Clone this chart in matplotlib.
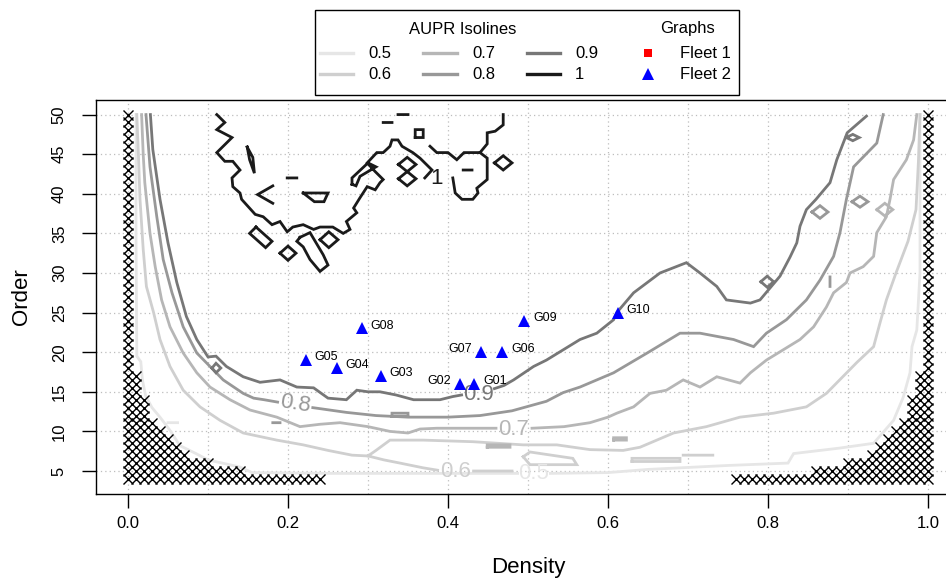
import numpy as np
import matplotlib
matplotlib.use("Agg")
import matplotlib.pyplot as plt
from matplotlib.patches import Rectangle
from matplotlib.lines import Line2D

plt.rcParams['font.family'] = ['Liberation Sans', 'DejaVu Sans']
nan = np.nan

# ---------------- data ----------------
levels = ['0.5', '0.6', '0.7', '0.8', '0.9', '1']
level_colors = ['#E6E6E6', '#CFCFCF', '#B6B6B6', '#989898', '#777777', '#1A1A1A']

# isolines (density, order); NaN separates pieces
iso05_x = [0.010, 0.010, 0.011, 0.016, 0.018, 0.022, 0.030, 0.040, 0.052, 0.065, 0.085, 0.100, 0.140, 0.155, 0.25, 0.35, 0.42, 0.487, nan,
           0.528, 0.60, 0.65, 0.75, 0.825, 0.832, 0.89, 0.932, 0.957, 0.969, 0.9775, 0.98, 0.986, 0.990, 0.990, nan,
           0.050, 0.062]
iso05_y = [50, 35, 19.5, 18.8, 16.5, 14.5, 13.0, 11.8, 10.2, 8.2, 7.2, 6.4, 5.5, 4.8, 4.7, 4.7, 4.7, 4.7, nan,
           4.7, 4.8, 5.2, 5.7, 6.0, 7.2, 7.9, 8.5, 11.4, 14.3, 17.4, 20.7, 22.8, 30, 50, nan,
           11.1, 11.1]

iso06_x = [0.011, 0.013, 0.015, 0.019, 0.023, 0.032, 0.040, 0.0525, 0.069, 0.090, 0.115, 0.144, 0.186, 0.219, 0.25, 0.28, 0.30,
           0.31, 0.3275, 0.369, 0.431, 0.494, 0.536, 0.5775, 0.619, 0.64, 0.682, 0.723, 0.765, 0.807, 0.848, 0.873, 0.911,
           0.932, 0.94, 0.948, 0.96, 0.975, 0.985, 0.988, 0.990, nan,
           0.30, 0.32, 0.34, 0.369, 0.387, nan, 0.432, 0.455, 0.48, nan,
           0.494, 0.5025, 0.556, 0.561, 0.5025, 0.494, nan,
           0.63, 0.69, 0.69, 0.63, 0.63, nan,
           0.694, 0.731]
iso06_y = [50, 45, 39.3, 33, 28.3, 25, 21.6, 18.2, 15.2, 13.1, 11.4, 9.8, 8.9, 8.3, 7.6, 7.0, 6.9,
           7.6, 8.9, 8.9, 8.7, 8.3, 8.3, 7.7, 7.6, 8.0, 9.8, 10.6, 11.8, 12.3, 13.1, 14.8, 18.7,
           20.7, 23.7, 26.6, 30, 34, 38, 44, 50, nan,
           6.9, 6.4, 6.0, 5.4, 5.1, nan, 5.0, 5.0, 5.0, nan,
           6.8, 7.4, 6.6, 5.8, 5.8, 6.8, nan,
           6.2, 6.2, 6.6, 6.6, 6.2, nan,
           7.0, 7.0]

iso07_x = [0.017, 0.019, 0.021, 0.0275, 0.034, 0.042, 0.0525, 0.069, 0.086, 0.1025, 0.1275, 0.1525, 0.186, 0.215, 0.24,
           0.265, 0.30, 0.3275, 0.35, 0.365, 0.386, 0.42, 0.46, nan,
           0.505, 0.545, 0.5775, 0.60, 0.611, 0.632, 0.6525, 0.673, 0.694, 0.715, 0.736, 0.765, 0.778, 0.798, 0.819,
           0.84, 0.857, 0.873, 0.882, 0.898, 0.9025, 0.919, 0.932, 0.936, 0.948, 0.9525, 0.957, 0.973, 0.982, 0.986, nan,
           0.449, 0.4775, 0.4775, 0.449, 0.449, nan,
           0.607, 0.623, 0.623, 0.607, 0.607, nan,
           0.936, 0.946, 0.956, 0.946, 0.936]
iso07_y = [50, 45, 41.4, 35, 30.8, 26.6, 23.2, 19.9, 17.4, 15.6, 14, 12.7, 11.8, 10.6, 10.9,
           11.1, 10.6, 10.0, 9.8, 10.3, 10.4, 10.4, 10.4, nan,
           10.4, 10.6, 11.1, 11.8, 12.3, 13.1, 14.8, 15.2, 16.5, 15.6, 16.9, 16.1, 17.4, 19, 20.3,
           21.6, 23.2, 25.7, 27.5, 28.8, 30, 30.8, 32.1, 35.1, 37.1, 39.3, 41.8, 44.3, 46.8, 50, nan,
           8.0, 8.0, 8.3, 8.3, 8.0, nan,
           8.9, 8.9, 9.2, 9.2, 8.9, nan,
           38, 38.8, 38, 37.2, 38]

iso08_x = [0.0225, 0.0275, 0.036, 0.044, 0.055, 0.069, 0.086, 0.1025, 0.119, 0.144, 0.157, 0.17, 0.187, nan,
           0.231, 0.273, 0.31, 0.35, 0.40, 0.44, 0.48, 0.523, 0.544, 0.565, 0.607, 0.649, 0.69, 0.715, 0.757, 0.782,
           0.798, 0.823, 0.848, 0.865, 0.882, 0.89, 0.898, 0.907, 0.936, 0.944, nan,
           0.33, 0.35, 0.35, 0.33, 0.33, nan,
           0.181, 0.19, nan,
           0.855, 0.865, 0.875, 0.865, 0.855, nan,
           0.905, 0.915, 0.925, 0.915, 0.905, nan,
           0.8775, 0.8775]
iso08_y = [50, 43.4, 37.1, 31.7, 27.5, 23.2, 19.9, 18.2, 16.5, 14.8, 14.2, 14.0, 13.7, nan,
           13.0, 12.4, 12.0, 11.8, 11.8, 12.0, 12.6, 13.8, 14.9, 15.6, 17.4, 19.9, 22.4, 22.4, 21.6, 20.7,
           22.4, 24.1, 26.6, 29.1, 32.1, 35.1, 39.3, 43.4, 46.4, 50, nan,
           11.9, 11.9, 12.3, 12.3, 11.9, nan,
           11.1, 11.1, nan,
           37.7, 38.5, 37.7, 36.9, 37.7, nan,
           39.0, 39.7, 39.0, 38.3, 39.0, nan,
           28.3, 29.5]

iso09_x = [0.028, 0.031, 0.040, 0.050, 0.061, 0.073, 0.086, 0.100, 0.110, 0.123, 0.144, 0.165, 0.19, 0.211, 0.232, 0.25,
           0.273, 0.286, 0.30, 0.315, 0.335, 0.357, 0.39, 0.406, 0.417, nan,
           0.458, 0.47, 0.482, 0.507, 0.523, 0.544, 0.565, 0.586, 0.607, 0.611, 0.632, 0.665, 0.698, 0.715, 0.736, 0.748,
           0.778, 0.79, 0.815, 0.8275, 0.836, 0.84, 0.848, 0.86, 0.8775, 0.886, 0.899, 0.923, nan,
           0.105, 0.11, 0.116, 0.11, 0.105, nan,
           0.898, 0.906, 0.914, 0.906, 0.898, nan,
           0.791, 0.799, 0.807, 0.799, 0.791]
iso09_y = [50, 45.6, 39.3, 33.8, 28.8, 24.5, 21.6, 19.4, 19.5, 18.2, 16.9, 16.2, 16.5, 15.6, 15.5, 14.2,
           14.0, 15.2, 15.0, 15.0, 14.6, 14.0, 14.0, 14.4, 14.6, nan,
           15.4, 15.8, 16.5, 18.2, 19, 20.3, 21.6, 22.4, 24.1, 25, 27.5, 30, 31.3, 30, 28.3, 26.6,
           26.2, 26.6, 29.6, 32, 33.8, 35.9, 38, 39.3, 41.4, 44.3, 47.7, 49.8, nan,
           18.0, 18.6, 18.0, 17.4, 18.0, nan,
           47.1, 47.5, 47.1, 46.7, 47.1, nan,
           28.9, 29.6, 28.9, 28.2, 28.9]

iso10_x = [0.111, 0.121, 0.111, 0.13, 0.111, 0.121, 0.131, 0.14, 0.13, 0.131, 0.14, 0.142, 0.159, 0.169, 0.18, 0.19,
           0.199, 0.206, 0.219, 0.232, 0.24, 0.256, 0.269, 0.2775, 0.273, 0.286, 0.282, 0.29, 0.299, 0.309, 0.315,
           0.319, 0.309, 0.299, 0.311, 0.319, 0.3275, 0.33, 0.3375, 0.3425, 0.356, 0.365, 0.38, 0.371, nan,
           0.406, 0.409, 0.4175, 0.431, 0.4375, 0.436, 0.449, 0.449, 0.44, 0.449, 0.449, 0.459, 0.469, 0.469, nan,
           0.3775, 0.386, 0.40, 0.411, 0.42, 0.44, nan,
           0.149, 0.156, 0.158, 0.152, 0.149, nan,
           0.199, 0.211, nan,
           0.181, 0.162, 0.181, nan,
           0.219, 0.25, 0.245, 0.233, 0.219, nan,
           0.16, 0.18, 0.172, 0.152, 0.16, nan,
           0.19, 0.20, 0.21, 0.20, 0.19, nan,
           0.215, 0.2275, 0.244, 0.25, 0.24, 0.2275, 0.219, 0.211, 0.215, nan,
           0.24, 0.251, 0.2625, 0.251, 0.24, nan,
           0.28, 0.28, 0.30, 0.31, 0.29, 0.285, 0.28, nan,
           0.338, 0.349, 0.360, 0.349, 0.338, nan,
           0.338, 0.349, 0.360, 0.349, 0.338, nan,
           0.359, 0.369, 0.369, 0.359, 0.359, nan,
           0.319, 0.33, nan,
           0.3375, 0.35, nan,
           0.419, 0.43, nan,
           0.458, 0.469, 0.48, 0.469, 0.458]
iso10_y = [50, 49, 48.1, 47.1, 45.2, 44.1, 44.1, 43, 42, 40.9, 40.1, 39.3, 37.4, 37.1, 36.1, 36.5,
           35.2, 35.8, 36.1, 35.5, 35.8, 35.8, 35, 35.5, 36.5, 37.6, 38.2, 39.5, 40.9, 40.5, 41.4,
           41.8, 42.8, 43.9, 45.2, 45.2, 46, 46.8, 46.8, 46, 45.2, 44.5, 43, 42, nan,
           42, 40.1, 39.3, 39.3, 40.1, 40.7, 41.8, 44.5, 45.2, 46.3, 47.7, 47.9, 48.7, 50, nan,
           46, 45.2, 45.2, 44.3, 45.2, 45.2, nan,
           45.9, 44.6, 42.6, 44.3, 45.9, nan,
           42.0, 42.0, nan,
           41.0, 39.9, 38.8, nan,
           40.1, 40.1, 39.0, 39.0, 40.1, nan,
           35.8, 34.0, 33.2, 35.0, 35.8, nan,
           32.5, 33.4, 32.5, 31.6, 32.5, nan,
           34.5, 35.1, 32.3, 31.0, 30.2, 31.7, 33.3, 34.0, 34.5, nan,
           34.2, 35.2, 34.2, 33.2, 34.2, nan,
           41.2, 42.0, 43.9, 43.4, 42.2, 41.0, 41.2, nan,
           43.7, 44.6, 43.7, 42.8, 43.7, nan,
           41.9, 42.8, 41.9, 41.0, 41.9, nan,
           47.1, 47.1, 48.1, 48.1, 47.1, nan,
           49.0, 49.0, nan,
           50.0, 50.0, nan,
           43.0, 43.0, nan,
           43.9, 44.8, 43.9, 43.0, 43.9]

iso_x = [iso05_x, iso06_x, iso07_x, iso08_x, iso09_x, iso10_x]
iso_y = [iso05_y, iso06_y, iso07_y, iso08_y, iso09_y, iso10_y]

# contour labels
label_x = [0.5075, 0.409, 0.4825, 0.209, 0.4375, 0.386]
label_y = [4.7, 5.0, 10.2, 13.5, 14.6, 41.9]
label_rot = [0, 0, 0, -9, 0, 0]

# infeasible cells (hatched): orders and the largest density on the low side
hatch_orders = list(range(4, 51))
hatch_low_max = [0.24, 0.14, 0.10, 0.07, 0.06, 0.05, 0.04, 0.03, 0.02, 0.02, 0.02, 0.01, 0.01, 0.01] + [0.0] * 33

# graphs (Fleet 2)
graph_names = ['G01', 'G02', 'G03', 'G04', 'G05', 'G06', 'G07', 'G08', 'G09', 'G10']
graph_density = [0.4325, 0.415, 0.316, 0.261, 0.222, 0.468, 0.441, 0.292, 0.495, 0.612]
graph_order = [16, 16, 17, 18, 19, 20, 20, 23, 24, 25]
graph_label_side = ['right', 'left', 'right', 'right', 'right', 'right', 'left', 'right', 'right', 'right']

x_ticks = [0.0, 0.2, 0.4, 0.6, 0.8, 1.0]
x_ticklabels = ['0.0', '0.2', '0.4', '0.6', '0.8', '1.0']
y_ticks = [5, 10, 15, 20, 25, 30, 35, 40, 45, 50]
x_grid = [0.0, 0.1, 0.2, 0.3, 0.4, 0.5, 0.6, 0.7, 0.8, 0.9, 1.0]

# ---------------- figure ----------------
W, H = 946, 581
fig = plt.figure(figsize=(W / 100, H / 100), dpi=100)
ax_l, ax_r, ax_t, ax_b = 96, 960, 100, 493.5
ax = fig.add_axes([ax_l / W, 1 - ax_b / H, (ax_r - ax_l) / W, (ax_b - ax_t) / H])
ax.set_xlim(-0.04, 1.04)
ax.set_ylim(2.16, 51.84)

# grid
for gx in x_grid:
    ax.axvline(gx, color='#BDBDBD', lw=0.9, ls=(0, (1, 2.5)), zorder=1)
for gy in y_ticks:
    ax.axhline(gy, color='#BDBDBD', lw=0.9, ls=(0, (1, 2.5)), zorder=1)

# isolines
for xs, ys, col in zip(iso_x, iso_y, level_colors):
    ax.plot(xs, ys, color=col, lw=2.0, solid_joinstyle='miter', zorder=2)

# contour labels
for txt, lx, ly, rot, col in zip(levels, label_x, label_y, label_rot, level_colors):
    ax.text(lx, ly, txt, color=col, fontsize=16, ha='center', va='center',
            rotation=rot, rotation_mode='anchor', zorder=2)

# hatched (infeasible) cells
hx, hy = [], []
for o, m in zip(hatch_orders, hatch_low_max):
    n = int(round(m / 0.01))
    for k in range(n + 1):
        hx += [k * 0.01, 1 - k * 0.01]
        hy += [o, o]
ax.plot(hx, hy, ls='none', marker='x', ms=6.6, mew=1.0, color='black', zorder=3)

# graphs
ax.plot(graph_density, graph_order, ls='none', marker='^', ms=9, mew=0, color='#0000FF', zorder=4)
for name, gx, gy, side in zip(graph_names, graph_density, graph_order, graph_label_side):
    off = 6.5 if side == 'right' else -6.5
    ax.annotate(name, (gx, gy), xytext=(off, 2.0), textcoords='offset points',
                ha='left' if side == 'right' else 'right', va='center', fontsize=9, zorder=5)

# axes styling
for sp in ax.spines.values():
    sp.set_linewidth(1.0)
ax.set_xticks(x_ticks)
ax.set_xticklabels(x_ticklabels, fontsize=12)
ax.set_yticks(y_ticks)
ax.set_yticklabels([str(v) for v in y_ticks], fontsize=12, rotation=90, va='center')
ax.tick_params(axis='both', direction='out', length=10, width=1.0)
ax.tick_params(axis='x', pad=6)
ax.tick_params(axis='y', pad=11)
ax.set_xlabel('Density', fontsize=16, va='center')
ax.xaxis.set_label_coords(0.5, -(568 - ax_b) / (ax_b - ax_t))
ax.set_ylabel('Order', fontsize=16, va='center')
ax.yaxis.set_label_coords(-(ax_l - 22) / (ax_r - ax_l), 0.5)

# ---------------- legend ----------------
bx0, by0, bx1, by1 = 315, 10, 739, 95


def fx(px):
    return px / W


def fy(py):
    return 1 - py / H


fig.add_artist(Rectangle((fx(bx0), fy(by1)), fx(bx1) - fx(bx0), fy(by0) - fy(by1),
                         transform=fig.transFigure, fill=False, ec='black', lw=1.0))
fig.text(fx(463), fy(29), 'AUPR Isolines', fontsize=12, ha='center', va='center')
fig.text(fx(687), fy(29), 'Graphs', fontsize=12, ha='center', va='center')
rows = [53, 74]
cols_line = [(320, 353), (423, 457), (527, 560)]
cols_text = [368, 472, 575]
for i, (lvl, col) in enumerate(zip(levels, level_colors)):
    c, r = divmod(i, 2)
    x0, x1 = cols_line[c]
    fig.add_artist(Line2D([fx(x0), fx(x1)], [fy(rows[r]), fy(rows[r])], transform=fig.transFigure,
                          color=col, lw=2.4))
    fig.text(fx(cols_text[c]), fy(rows[r]), lvl, fontsize=12, ha='left', va='center')
fig.add_artist(Line2D([fx(648)], [fy(rows[0])], transform=fig.transFigure, ls='none',
                      marker='s', ms=5.5, mew=0, color='#FF0000'))
fig.add_artist(Line2D([fx(648)], [fy(rows[1])], transform=fig.transFigure, ls='none',
                      marker='^', ms=8, mew=0, color='#0000FF'))
fig.text(fx(680), fy(rows[0]), 'Fleet 1', fontsize=12, ha='left', va='center')
fig.text(fx(680), fy(rows[1]), 'Fleet 2', fontsize=12, ha='left', va='center')

fig.savefig('out.png', dpi=100)
